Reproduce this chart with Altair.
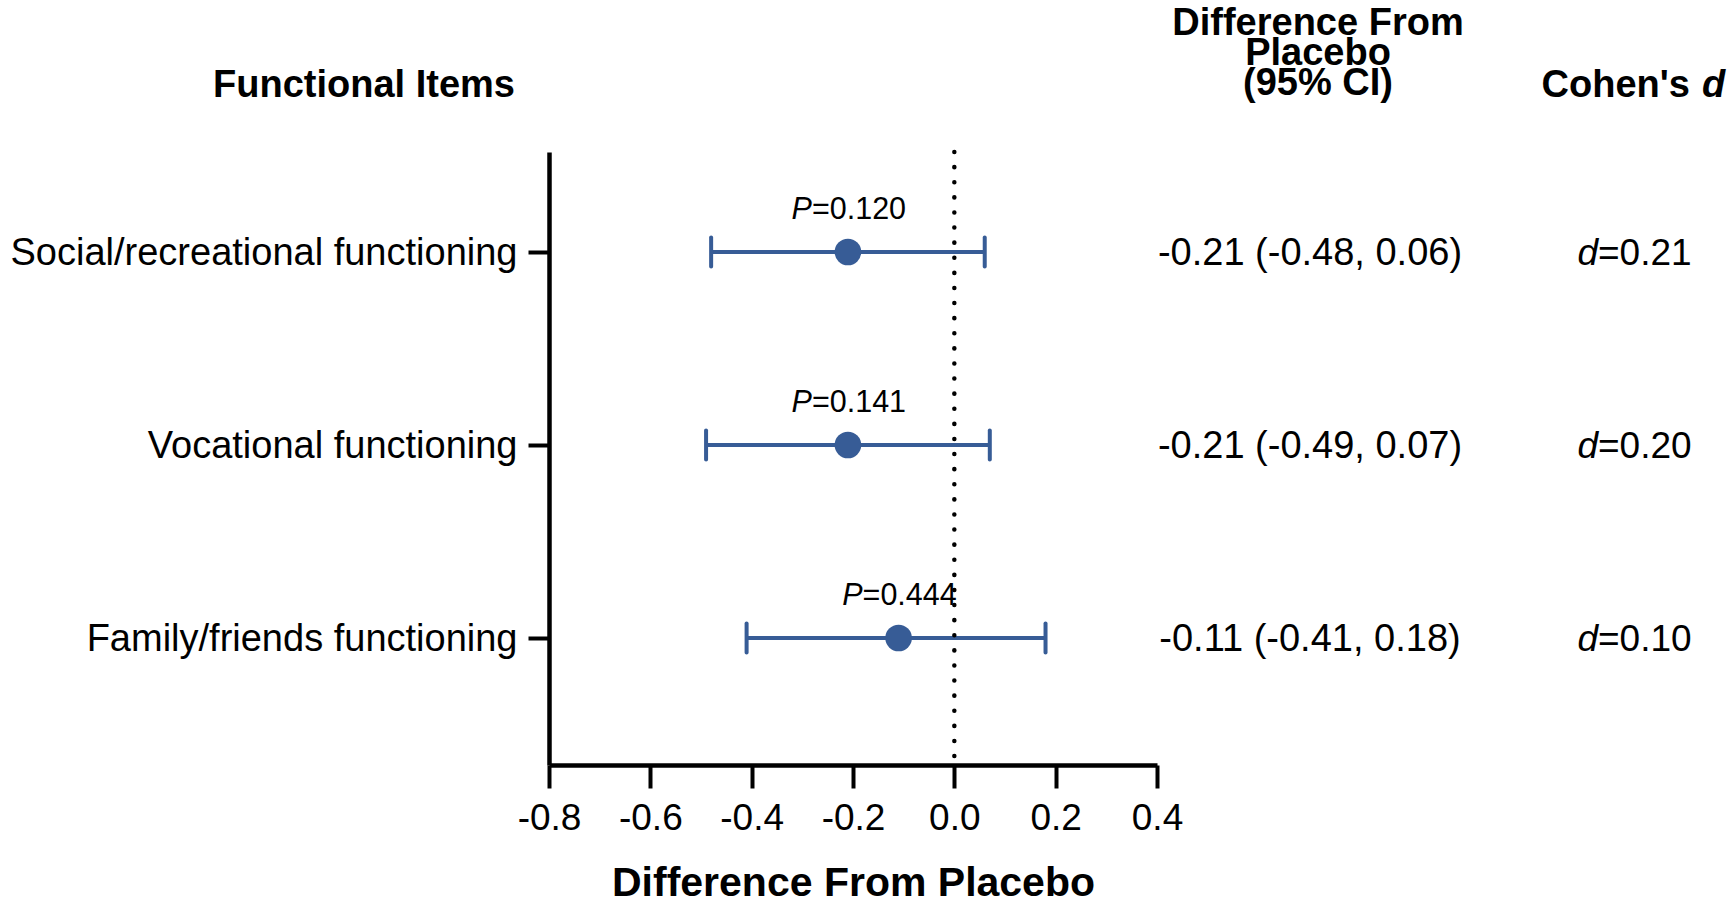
import json
import altair as alt
import pandas as pd

# ---- data ----
items = ["Social/recreational functioning", "Vocational functioning", "Family/friends functioning"]
rows = [1, 2, 3]
estimates = [-0.21, -0.21, -0.11]
ci_low = [-0.48, -0.49, -0.41]
ci_high = [0.06, 0.07, 0.18]
p_values = ["0.120", "0.141", "0.444"]
cohens_d = ["0.21", "0.20", "0.10"]
x_ticks = [-0.8, -0.6, -0.4, -0.2, 0.0, 0.2, 0.4]
x_domain = [-0.8, 0.4]
reference_line = [0.0]

df = pd.DataFrame({
    "item": items,
    "row": rows,
    "est": estimates,
    "lo": ci_low,
    "hi": ci_high,
    "p_text": ["=" + p for p in p_values],
    "d_text": ["=" + d for d in cohens_d],
    "ci_text": [f"{e:.2f} ({l:.2f}, {h:.2f})" for e, l, h in zip(estimates, ci_low, ci_high)],
})

BLUE = "#375C96"
FONT = "Liberation Sans"
label_expr = json.dumps(items) + "[datum.value - 1]"

x_enc = alt.X(
    "lo:Q",
    scale=alt.Scale(domain=x_domain, nice=False, zero=False),
    axis=alt.Axis(
        values=x_ticks, format=".1f", title="Difference From Placebo",
        labelExpr="replace(datum.label, '\u2212', '-')",
        grid=False, tickSize=23, tickWidth=4, domainWidth=4.5,
        labelFontSize=37, labelPadding=12, labelFlush=False, labelOverlap=False,
        titleFontSize=41, titleFontWeight="bold", titlePadding=27,
    ),
)
y_enc = alt.Y(
    "row:Q",
    scale=alt.Scale(domain=[0.482, 3.658], reverse=True, nice=False, zero=False),
    axis=alt.Axis(
        values=rows, labelExpr=label_expr, title=None, grid=False,
        tickSize=21, tickWidth=4, domainWidth=4.5,
        labelFontSize=38, labelPadding=11, labelLimit=1000, labelOffset=2,
    ),
)

base = alt.Chart(df)

zero_rule = alt.Chart(pd.DataFrame({"z": reference_line})).mark_rule(
    color="black", strokeWidth=4.5, strokeDash=[0.1, 15], strokeCap="round"
).encode(x=alt.X("z:Q"))

err = base.mark_rule(color=BLUE, strokeWidth=4).encode(x=x_enc, x2="hi:Q", y=y_enc)
cap_lo = base.mark_tick(orient="vertical", size=33, thickness=4, color=BLUE, cornerRadius=2, opacity=1).encode(
    x="lo:Q", y="row:Q")
cap_hi = base.mark_tick(orient="vertical", size=33, thickness=4, color=BLUE, cornerRadius=2, opacity=1).encode(
    x="hi:Q", y="row:Q")
points = base.mark_circle(size=707, color=BLUE, opacity=1).encode(x="est:Q", y="row:Q")

p_italic = base.mark_text(text="P", fontStyle="italic", fontSize=30.5, align="right",
                          baseline="alphabetic", dx=-36, dy=-33, color="black").encode(x="est:Q", y="row:Q")
p_val = base.mark_text(fontSize=30.5, align="left", baseline="alphabetic", dx=-36, dy=-33,
                       color="black").encode(x="est:Q", y="row:Q", text="p_text:N")

ci_col = base.mark_text(fontSize=38, align="center", baseline="alphabetic", dy=13,
                        color="black").encode(x=alt.value(761), y="row:Q", text="ci_text:N")
d_italic = base.mark_text(text="d", fontStyle="italic", fontSize=37, align="right",
                          baseline="alphabetic", dy=13, color="black").encode(x=alt.value(1049), y="row:Q")
d_val = base.mark_text(fontSize=37, align="left", baseline="alphabetic", dy=13,
                       color="black").encode(x=alt.value(1049), y="row:Q", text="d_text:N")

hdr_data = alt.Chart(pd.DataFrame({"h": [0]}))
hdr_items = hdr_data.mark_text(text="Functional Items", fontSize=38, fontWeight="bold",
                               align="center", baseline="alphabetic", color="black").encode(
    x=alt.value(-185), y=alt.value(-55))
hdr_ci = hdr_data.mark_text(text=["Difference From", "Placebo", "(95% CI)"], lineHeight=30,
                            fontSize=38, fontWeight="bold", align="center", baseline="alphabetic",
                            color="black").encode(x=alt.value(769), y=alt.value(-117))
hdr_cohen = hdr_data.mark_text(text="Cohen's", fontSize=38, fontWeight="bold", align="right",
                               baseline="alphabetic", color="black").encode(
    x=alt.value(1141), y=alt.value(-55))
hdr_d = hdr_data.mark_text(text="d", fontSize=38, fontWeight="bold", fontStyle="italic", align="left",
                           baseline="alphabetic", color="black").encode(
    x=alt.value(1153), y=alt.value(-55))

chart = alt.layer(
    err, zero_rule, cap_lo, cap_hi, points, p_italic, p_val,
    ci_col, d_italic, d_val, hdr_items, hdr_ci, hdr_cohen, hdr_d,
).properties(
    width=608, height=613,
    autosize=alt.AutoSizeParams(type="none"),
    padding={"left": 549, "top": 152, "right": 572, "bottom": 134},
).configure(
    font=FONT,
).configure_axis(
    domainColor="black", tickColor="black", labelColor="black", titleColor="black",
    labelFont=FONT, titleFont=FONT,
).configure_view(stroke=None)

chart.save("out.html", embed_options={"renderer": "svg", "actions": False})
